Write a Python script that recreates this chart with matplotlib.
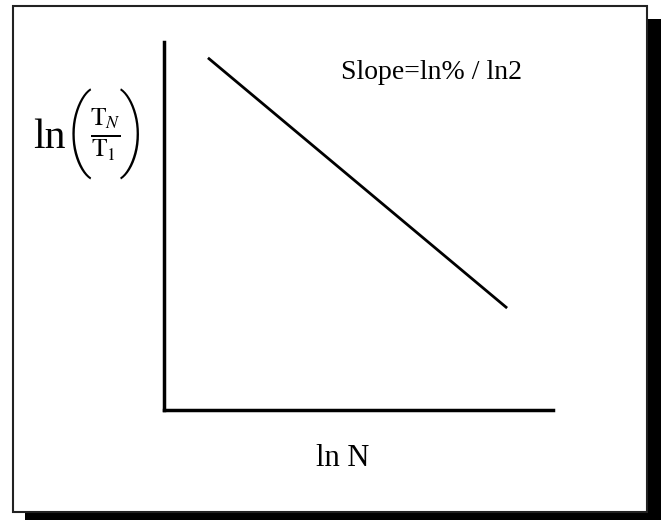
import matplotlib
matplotlib.use("Agg")
import matplotlib.pyplot as plt
from matplotlib.patches import Rectangle

# straight line in ln-ln space (axis fractions)
line_x = [0.113, 0.882]
line_y = [0.957, 0.277]

slope_text = "Slope=ln% / ln2"
x_label = "ln N"
frac_label = r"$\frac{\mathrm{T}_N}{\mathrm{T}_1}$"

plt.rcParams['font.family'] = 'Liberation Serif'
plt.rcParams['mathtext.fontset'] = 'stix'

W, H = 661, 520
fig = plt.figure(figsize=(W / 100, H / 100), dpi=100)

# shadow + framed box
fig.patches.append(Rectangle((25 / W, -0.05), 640 / W, (520 - 19) / H + 0.05,
                             transform=fig.transFigure, facecolor='black',
                             edgecolor='none', zorder=-2))
fig.patches.append(Rectangle((12.5 / W, 8 / H), 634 / W, 505.5 / H,
                             transform=fig.transFigure, facecolor='white',
                             edgecolor='#222222', linewidth=1.5, zorder=-1))

ax = fig.add_axes([164 / W, 110 / H, 389 / W, 368 / H])
ax.patch.set_alpha(0)
ax.plot(line_x, line_y, color='black', linewidth=2, solid_capstyle='butt')
ax.set_xlim(0, 1)
ax.set_ylim(0, 1)
ax.spines['top'].set_visible(False)
ax.spines['right'].set_visible(False)
ax.spines['left'].set_linewidth(2.5)
ax.spines['bottom'].set_linewidth(2.5)
ax.set_xticks([])
ax.set_yticks([])

ax.text(0.455, 0.918, slope_text, fontsize=20, ha='left', va='center')
fig.text(343 / W, 1 - 458 / H, x_label, fontsize=22, ha='center', va='center')

# y label: ln ( T_N / T_1 ) built from pieces
fig.text(33 / W, 1 - 148 / H, "ln", fontsize=30, ha='left', va='baseline')
fig.text(79 / W, 1 - 134 / H, "(", fontsize=64, family='Roboto',
         fontweight='light', ha='center', va='center')
fig.text(132 / W, 1 - 134 / H, ")", fontsize=64, family='Roboto',
         fontweight='light', ha='center', va='center')
fig.text(105 / W, 1 - 135 / H, frac_label, fontsize=26, ha='center', va='center')

fig.savefig('out.png', dpi=100)
